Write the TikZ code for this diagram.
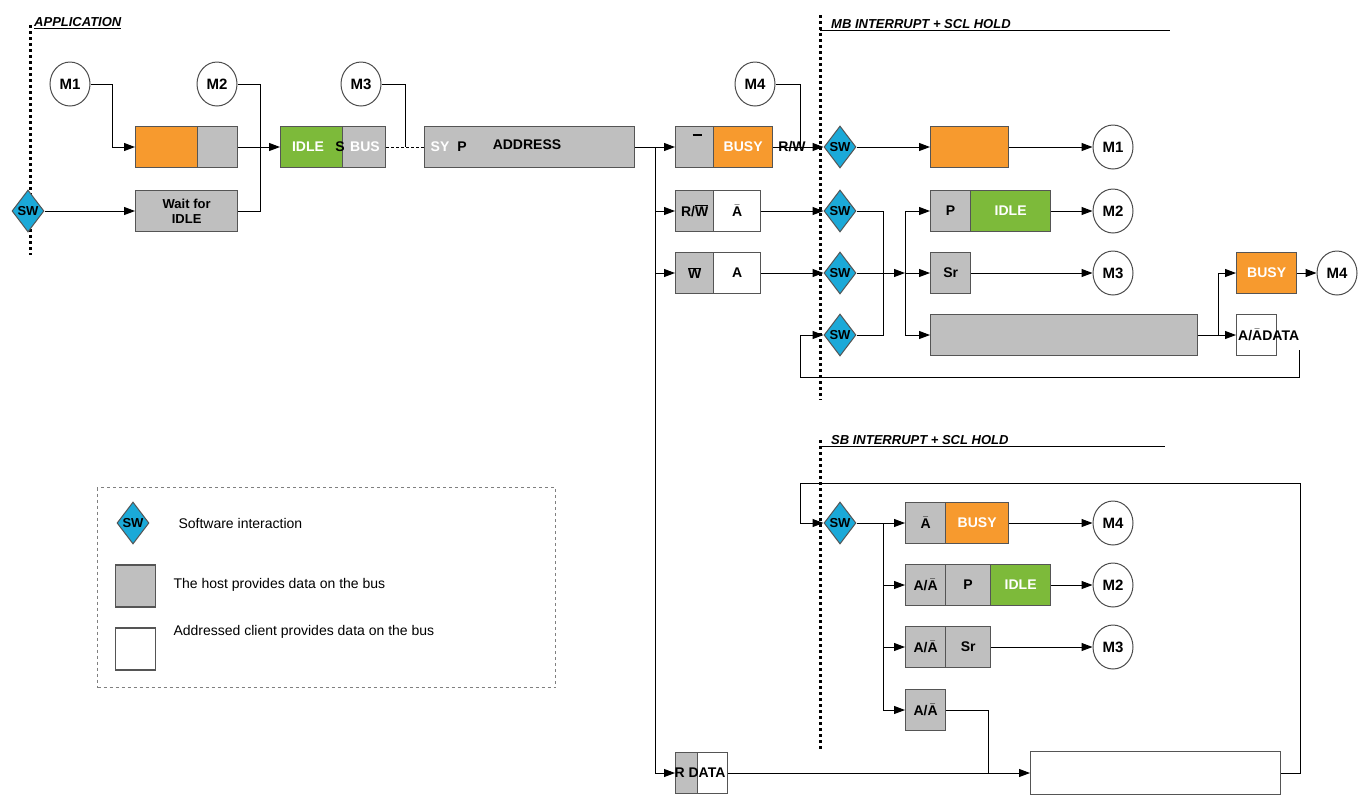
\documentclass[tikz,border=0pt]{standalone}
\usepackage{fontspec}
\setmainfont{Liberation Sans}
\usetikzlibrary{shapes.geometric,arrows.meta}
\definecolor{org}{HTML}{F79A2E}
\definecolor{grn}{HTML}{7DBA3A}
\definecolor{gry}{HTML}{BFBFBF}
\definecolor{swb}{HTML}{1BA9D8}
\definecolor{edg}{HTML}{555555}
\newcommand{\abar}{$\bar{\mbox{A}}$}
\begin{document}
\begin{tikzpicture}[x=1pt,y=-1pt,font=\fontsize{14}{16}\selectfont\bfseries,
  cell/.style={draw=edg,line width=1.3pt,inner sep=0,anchor=west,minimum height=41pt},
  g/.style={cell,fill=gry},
  o/.style={cell,fill=org,text=white},
  gr/.style={cell,fill=grn,text=white},
  w/.style={cell,fill=white},
  sw/.style={diamond,draw=edg,fill=swb,line width=1pt,inner sep=0,minimum width=32pt,minimum height=42pt,font=\fontsize{13}{14}\selectfont\bfseries},
  m/.style={ellipse,draw=black!70,line width=1pt,fill=white,minimum width=40pt,minimum height=44pt,inner sep=0,font=\fontsize{15}{16}\selectfont\bfseries},
  ln/.style={line width=1pt},
  ar/.style={line width=1pt,-{Triangle[length=11pt,width=8pt]}},
  dot/.style={line width=3pt,dash pattern=on 3pt off 3pt},
  lt/.style={anchor=west,font=\fontsize{14}{16}\selectfont},
  lab/.style={font=\fontsize{13}{15}\selectfont\bfseries\itshape,anchor=south west,inner sep=1pt}]
\useasboundingbox (0,0) rectangle (1367,804);
% section lines
\draw[dot] (30,25) -- (30,255);
\node[lab] (tapp) at (33,30) {\underline{APPLICATION}};
\draw[dot] (820,15) -- (820,400);
\node[lab] (tmb) at (830,30) {MB INTERRUPT + SCL HOLD};
\draw[ln] (820,30) -- (1170,30);
\draw[dot] (820,440) -- (820,750);
\node[lab] (tsb) at (830,446) {SB INTERRUPT + SCL HOLD};
\draw[ln] (820,446) -- (1165,446);
% application
\node[sw] (sw0) at (28,211) {SW};
\node[m] (m1) at (70,84) {M1};
\node[m] (m2) at (217,84) {M2};
\node[m] (m3) at (361,84) {M3};
\node[m] (m4) at (755,84) {M4};
\node[o,minimum width=62pt] (b1a) at (135,147) {};
\node[g,minimum width=40pt] (b1b) at (197,147) {};
\node[g,minimum width=102pt,align=center,font=\fontsize{13}{15}\selectfont\bfseries] (wait) at (135,211) {Wait for\\IDLE};
\node[gr,minimum width=62pt] (idle) at (280,147) {};
\node[g,minimum width=43pt] (s1) at (342,147) {};
\node[text=white] (tidle) at (308,147) {IDLE};
\node (ts) at (340,147) {S};
\node[text=white] (tbus) at (365,147) {BUS};
\node[g,minimum width=210pt] (addr) at (424,147) {};
\node[text=white] (tsy) at (440,147) {SY};
\node (tp) at (462,147) {P};
\node (taddr) at (527,145) {ADDRESS};
\draw[line width=1pt,dash pattern=on 3pt off 2pt] (s1.east) -- (addr.west);
\draw[ar] (m1.east) -| (112,147) -- (b1a.west);
\draw[ar] (sw0.east) -- (wait.west);
\draw[ln] (m2.east) -| (260,147);
\draw[ln] (wait.east) -| (260,147);
\draw[ar] (b1b.east) -- (idle.west);
\draw[ln] (m3.east) -| (405,147);
% branch from address
\coordinate (j1) at (655,147);
\node[g,minimum width=38pt] (r1a) at (675,147) {};
\node[o,minimum width=59pt] (r1b) at (713,147) {BUSY};
\node[font=\fontsize{10}{10}\selectfont] at (697,135) {\rule{9pt}{1.2pt}};
\node (trw) at (792,147) {R/W};
\node[g,minimum width=38pt] (r2a) at (675,211) {R/$\overline{\mbox{W}}$};
\node[w,minimum width=47pt] (r2b) at (713,211) {\abar};
\node[g,minimum width=38pt] (r3a) at (675,273) {$\overline{\mbox{W}}$};
\node[w,minimum width=47pt] (r3b) at (713,273) {A};
\node[g,minimum width=22pt] (rda) at (675,773) {};
\node[w,minimum width=30pt] (rdb) at (697,773) {};
\node (trd) at (700,773) {R DATA};
\draw[ln] (addr.east) -- (j1);
\draw[ar] (j1) -- (r1a.west);
\draw[ln] (j1) -- (655,773);
\draw[ar] (655,211) -- (r2a.west);
\draw[ar] (655,273) -- (r3a.west);
\draw[ar] (655,773) -- (rda.west);
% MB section
\node[sw] (sw1) at (840,147) {SW};
\node[sw] (sw2) at (840,211) {SW};
\node[sw] (sw3) at (840,273) {SW};
\node[sw] (sw4) at (840,335) {SW};
\draw[ar] (r1b.east) -- (sw1.west);
\draw[ln] (m4.east) -| (800,147);
\draw[ar] (r2b.east) -- (sw2.west);
\draw[ar] (r3b.east) -- (sw3.west);
\node[o,minimum width=78pt] (o1) at (930,147) {};
\node[m] (n1) at (1113,147) {M1};
\draw[ar] (sw1.east) -- (o1.west);
\draw[ar] (o1.east) -- (n1.west);
\draw[ln] (sw2.east) -| (883,335) -- (sw4.east);
\draw[ar] (sw3.east) -- (905,273);
\draw[ln] (905,211) -- (905,335);
\node[g,minimum width=40pt] (p1) at (930,211) {P};
\node[gr,minimum width=80pt] (i1) at (970,211) {IDLE};
\node[m] (n2) at (1113,211) {M2};
\node[g,minimum width=40pt] (sr1) at (930,273) {Sr};
\node[m] (n3) at (1113,273) {M3};
\node[g,minimum width=267pt] (big) at (930,335) {};
\draw[ar] (905,211) -- (p1.west);
\draw[ar] (905,273) -- (sr1.west);
\draw[ar] (905,335) -- (big.west);
\draw[ar] (i1.east) -- (n2.west);
\draw[ar] (sr1.east) -- (n3.west);
\node[o,minimum width=60pt] (bz) at (1236,273) {BUSY};
\node[m] (n4) at (1337,273) {M4};
\node[w,minimum width=40pt] (ad) at (1236,335) {};
\node[anchor=west,inner sep=0] (tad) at (1238,335) {A/\abar DATA};
\draw[ln] (big.east) -- (1218,335);
\draw[ar] (1218,273) -- (bz.west);
\draw[ar] (1218,335) -- (ad.west);
\draw[ln] (1218,273) -- (1218,335);
\draw[ar] (bz.east) -- (n4.west);
\draw[ar] (1299,350) -- (1299,377) -- (800,377) -- (800,335) -- (sw4.west);
% SB section
\node[sw] (sw5) at (840,523) {SW};
\draw[ar] (1280,773) -- (1300,773) -- (1300,483) -- (800,483) -- (800,523) -- (sw5.west);
\node[g,minimum width=40pt] (sa1) at (905,523) {\abar};
\node[o,minimum width=63pt] (sa2) at (945,523) {BUSY};
\node[m] (q4) at (1113,523) {M4};
\node[g,minimum width=40pt] (sb1) at (905,585) {A/\abar};
\node[g,minimum width=45pt] (sb2) at (945,585) {P};
\node[gr,minimum width=60pt] (sb3) at (990,585) {IDLE};
\node[m] (q2) at (1113,585) {M2};
\node[g,minimum width=40pt] (sc1) at (905,647) {A/\abar};
\node[g,minimum width=45pt] (sc2) at (945,647) {Sr};
\node[m] (q3) at (1113,647) {M3};
\node[g,minimum width=40pt] (sd1) at (905,710) {A/\abar};
\draw[ln] (sw5.east) -- (883,523) -- (883,710);
\draw[ar] (883,523) -- (sa1.west);
\draw[ar] (883,585) -- (sb1.west);
\draw[ar] (883,647) -- (sc1.west);
\draw[ar] (883,710) -- (sd1.west);
\draw[ar] (sa2.east) -- (q4.west);
\draw[ar] (sb3.east) -- (q2.west);
\draw[ar] (sc2.east) -- (q3.west);
\node[w,minimum width=250pt,minimum height=43pt] (wb) at (1030,773) {};
\draw[ar] (rdb.east) -- (wb.west);
\draw[ln] (sd1.east) -| (988,773);
% legend
\node[draw=gray,dashed,line width=1pt,minimum width=458pt,minimum height=200pt,anchor=north west,inner sep=0] (leg) at (97,487) {};
\node[sw] (lsw) at (133,523) {SW};
\node[lt] (l1) at (175,523) {Software interaction};
\node[g,minimum width=40pt,minimum height=42pt] (lg) at (115,586) {};
\node[lt] (l2) at (170,585) {The host provides data on the bus};
\node[w,minimum width=40pt,minimum height=42pt] (lw) at (115,649) {};
\node[lt] (l3) at (170,632) {Addressed client provides data on the bus};
\end{tikzpicture}
\end{document}
